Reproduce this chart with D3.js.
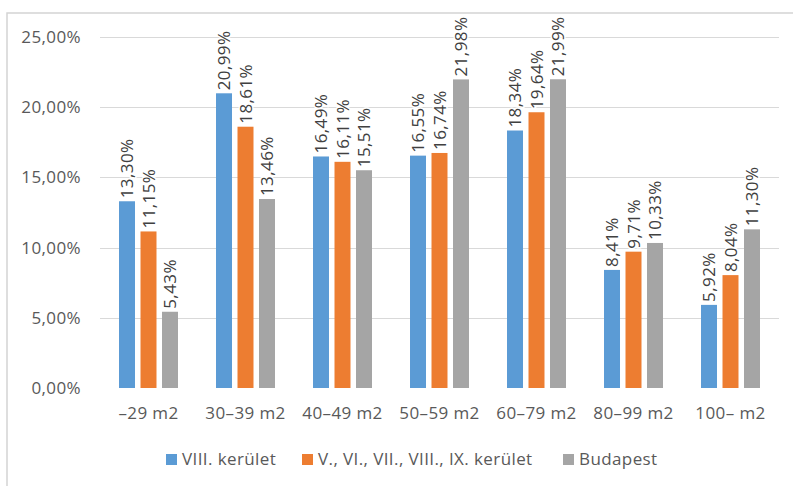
<!DOCTYPE html>
<html><head><meta charset="utf-8">
<script src="https://cdn.jsdelivr.net/npm/d3@7"></script>
<style>body{margin:0;background:#fff}svg{display:block}</style>
</head><body><svg id="c" width="793" height="486"></svg>
<script>
const categories = ["–29 m2","30–39 m2","40–49 m2","50–59 m2","60–79 m2","80–99 m2","100– m2"];
const seriesNames = ["VIII. kerület","V., VI., VII., VIII., IX. kerület","Budapest"];
const viii = [13.30,20.99,16.49,16.55,18.34,8.41,5.92];
const belso = [11.15,18.61,16.11,16.74,19.64,9.71,8.04];
const budapest = [5.43,13.46,15.51,21.98,21.99,10.33,11.30];
const yTicks = [0,5,10,15,20,25];
const colors = ["#5B9BD5","#ED7D31","#A5A5A5"];
const seriesValues = [viii, belso, budapest];

const svg = d3.select("#c");
const font = "'Open Sans', sans-serif";
const fs = 17, ls = "0.4px";
const fmt = v => v.toFixed(2).replace(".", ",") + "%";

// frame
svg.append("path").attr("d","M7,486 L7,13 L793,13").attr("fill","none").attr("stroke","#d4d4d4").attr("stroke-width",1.5);

const y = d3.scaleLinear().domain([0,25]).range([388,37]);
const x0 = d3.scaleBand().domain(categories).range([100,779]).paddingInner(0.392).paddingOuter(0.196);
const x1 = d3.scaleBand().domain(d3.range(3)).range([0,x0.bandwidth()]).paddingInner(0.256).paddingOuter(0);

// gridlines
svg.append("g").selectAll("line").data(yTicks.filter(t=>t>0)).join("line")
  .attr("x1",100).attr("x2",779).attr("y1",d=>Math.round(y(d))+0.5).attr("y2",d=>Math.round(y(d))+0.5)
  .attr("stroke","#d9d9d9").attr("stroke-width",1);

// y axis
const yAxis = d3.axisLeft(y).tickValues(yTicks).tickFormat(d=>fmt(d)).tickSize(0).tickPadding(0);
const ga = svg.append("g").attr("transform","translate(81,0)").call(yAxis);
ga.select(".domain").remove();
ga.selectAll("text").attr("font-family",font).attr("font-size",fs).attr("letter-spacing",ls).attr("fill","#595959");

// bars
const groups = svg.append("g").selectAll("g").data(categories).join("g")
  .attr("transform",d=>`translate(${x0(d)},0)`);
groups.selectAll("rect").data((d,i)=>seriesValues.map((s,k)=>({k,v:s[i]}))).join("rect")
  .attr("x",d=>x1(d.k)).attr("width",x1.bandwidth())
  .attr("y",d=>y(d.v)).attr("height",d=>y(0)-y(d.v))
  .attr("fill",d=>colors[d.k]);
groups.selectAll("text").data((d,i)=>seriesValues.map((s,k)=>({k,v:s[i]}))).join("text")
  .attr("transform",d=>`translate(${x1(d.k)+x1.bandwidth()/2},${y(d.v)-3}) rotate(-90)`)
  .attr("dy","0.36em").attr("text-anchor","start")
  .attr("font-family",font).attr("font-size",fs).attr("letter-spacing",ls).attr("fill","#404040")
  .attr("stroke","#fff").attr("stroke-width",3).attr("paint-order","stroke")
  .text(d=>fmt(d.v));

// x axis
const xAxis = d3.axisBottom(x0).tickSize(0).tickPadding(0);
const gx = svg.append("g").attr("transform","translate(0,407)").call(xAxis);
gx.select(".domain").remove();
gx.selectAll("text").attr("font-family",font).attr("font-size",fs).attr("letter-spacing",ls).attr("fill","#595959").attr("dy","0.71em");

// legend
const legX = [166,302,563];
const leg = svg.append("g").selectAll("g").data(seriesNames).join("g")
  .attr("transform",(d,i)=>`translate(${legX[i]},454)`);
leg.append("rect").attr("width",11).attr("height",11).attr("fill",(d,i)=>colors[i]);
leg.append("text").attr("x",16).attr("y",5.5).attr("dy","0.35em")
  .attr("font-family",font).attr("font-size",fs).attr("letter-spacing",ls).attr("fill","#595959").text(d=>d);
</script></body></html>
